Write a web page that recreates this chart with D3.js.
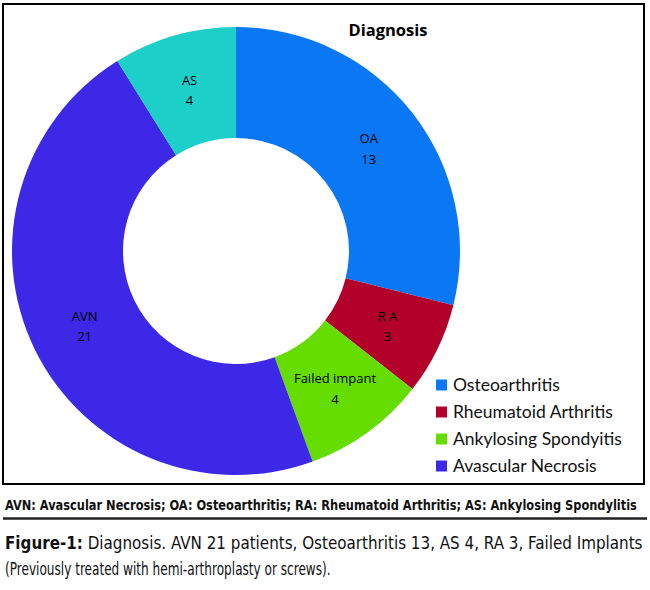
<!DOCTYPE html>
<html><head><meta charset="utf-8">
<script src="https://cdn.jsdelivr.net/npm/d3@7"></script>
<style>body{margin:0;background:#fff}svg{display:block}</style>
</head><body>
<script>
const categories = ["OA","RA","Failed impant","AVN","AS"];
const labelNames = ["OA","R A","Failed impant","AVN","AS"];
const values = [13,3,4,21,4];
const colors = ["#0a78f5","#b3002a","#66dd00","#3c28e6","#1ccfc8"];
const legendNames = ["Osteoarthritis","Rheumatoid Arthritis","Ankylosing Spondyitis","Avascular Necrosis"];
const legendColors = ["#0a78f5","#b3002a","#66dd00","#3c28e6"];
const title = "Diagnosis";
const abbrev = "AVN: Avascular Necrosis; OA: Osteoarthritis; RA: Rheumatoid Arthritis; AS: Ankylosing Spondylitis";
const figLabel = "Figure-1:";
const figText1 = " Diagnosis. AVN 21 patients, Osteoarthritis 13, AS 4, RA 3, Failed Implants";
const figText2 = "(Previously treated with hemi-arthroplasty or screws).";

const W=650,H=590;
const svg=d3.select("body").append("svg").attr("width",W).attr("height",H);
svg.append("rect").attr("x",3).attr("y",4).attr("width",641).attr("height",480)
  .attr("fill","#fff").attr("stroke","#000").attr("stroke-width",2);

const cx=236, cy=251, R=224, r0=113;
const pie=d3.pie().sort(null).value(d=>d)(values);
const arc=d3.arc().innerRadius(r0).outerRadius(R);
const g=svg.append("g").attr("transform",`translate(${cx},${cy})`);
g.selectAll("path").data(pie).join("path").attr("d",arc).attr("fill",(d,i)=>colors[i]);
const lf="'Open Sans', sans-serif";
pie.forEach((d,i)=>{
  const [x,y]=arc.centroid(d);
  const t=g.append("text").attr("x",x).attr("y",y).attr("text-anchor","middle")
    .attr("font-family",lf).attr("font-size",13).attr("fill","#000");
  t.append("tspan").attr("x",x).attr("dy","-0.3em").text(labelNames[i]);
  t.append("tspan").attr("x",x).attr("dy","1.55em").text(values[i]);
});

svg.append("text").attr("x",388).attr("y",36).attr("text-anchor","middle")
  .attr("font-family",lf).attr("font-weight","bold").attr("font-size",16.5).text(title);

const lg=svg.append("g");
legendNames.forEach((n,i)=>{
  const y=385+i*27;
  lg.append("rect").attr("x",436).attr("y",y-5.5).attr("width",11).attr("height",11).attr("fill",legendColors[i]);
  lg.append("text").attr("x",453).attr("y",y).attr("dy","0.36em").attr("font-family","Lato, sans-serif")
    .attr("font-size",17.5).attr("fill","#111").text(n);
});

const ff="'DejaVu Sans Condensed', 'Liberation Sans', sans-serif";
function fit(sel, x, y, target){
  const w=sel.node().getComputedTextLength();
  const s=Math.min(1,target/w);
  sel.attr("x",0).attr("y",0).attr("transform",`translate(${x},${y}) scale(${s},1)`);
}
const a=svg.append("text").attr("font-family",ff).attr("font-weight","bold").attr("font-size",14.5).attr("fill","#111").text(abbrev);
fit(a,5,510,632);
svg.append("line").attr("x1",3).attr("x2",647).attr("y1",518.5).attr("y2",518.5).attr("stroke","#222").attr("stroke-width",2.5);

const t1=svg.append("text").attr("font-family",ff).attr("font-size",18).attr("fill","#111");
t1.append("tspan").attr("font-weight","bold").text(figLabel);
t1.append("tspan").text(figText1);
fit(t1,5,549,638);
const t2=svg.append("text").attr("font-family",ff).attr("font-size",18).attr("fill","#111").text(figText2);
fit(t2,5,575,326);
</script>
</body></html>
